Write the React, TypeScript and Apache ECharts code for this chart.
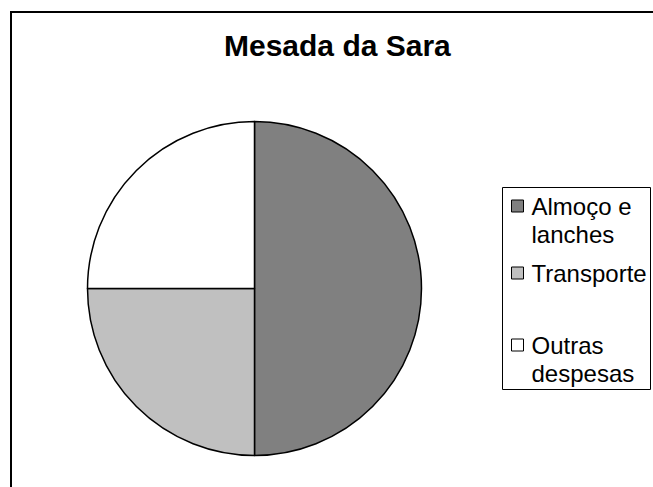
import React, { useEffect, useRef } from "react";
import * as echarts from "echarts";

const TITLE = "Mesada da Sara";
const categories = ["Almoço e lanches", "Transporte", "Outras despesas"];
const legendLines = [["Almoço e", "lanches"], ["Transporte"], ["Outras", "despesas"]];
const values = [50, 25, 25];
const colors = ["#808080", "#c0c0c0", "#ffffff"];

const FONT = "'Liberation Sans', Arial, sans-serif";
const LEG_FS = 24;

export default function App() {
  const ref = useRef<HTMLDivElement>(null);
  useEffect(() => {
    if (!ref.current) return;
    const chart = echarts.init(ref.current, undefined, { renderer: "svg" });
    const LH = 28;
    const iconCenters = [206, 273, 345];
    const legends = categories.map((name, i) => {
      const lines = legendLines[i];
      const multi = lines.length > 1;
      const top = multi ? iconCenters[i] - (LH * 3) / 2 : iconCenters[i] - LH / 2;
      return {
        show: true,
        orient: "vertical",
        left: 511,
        top: top,
        padding: 0,
        itemWidth: 12,
        itemHeight: 12,
        icon: "rect",
        selectedMode: false,
        itemStyle: { borderColor: "#000", borderWidth: 1 },
        data: [
          {
            name,
            textStyle: {
              padding: [0, 0, 0, 3],
              backgroundColor: "rgba(0,0,0,0)",
            },
          },
        ],
        formatter: () =>
          multi ? `{first|${lines[0]}}\n{second|${lines[1]}}` : `{single|${lines[0]}}`,
        textStyle: {
          fontFamily: FONT,
          fontSize: LEG_FS,
          color: "#000",
          lineHeight: LH,
          rich: {
            first: {
              fontFamily: FONT,
              fontSize: LEG_FS,
              color: "#000",
              height: LH,
              lineHeight: LH * 2,
              verticalAlign: "bottom",
            },
            second: {
              fontFamily: FONT,
              fontSize: LEG_FS,
              color: "#000",
              lineHeight: LH,
            },
            single: {
              fontFamily: FONT,
              fontSize: LEG_FS,
              color: "#000",
              lineHeight: LH,
            },
          },
        },
      };
    });
    chart.setOption({
      animation: false,
      backgroundColor: "#ffffff",
      title: {
        text: TITLE,
        left: 224,
        top: 30,
        padding: 0,
        textStyle: {
          fontFamily: FONT,
          fontSize: 30,
          fontWeight: "bold",
          color: "#000",
        },
      },
      legend: legends,
      graphic: [
        {
          type: "rect",
          shape: { x: 11, y: 12, width: 800, height: 700 },
          style: { fill: "none", stroke: "#000", lineWidth: 2 },
          silent: true,
        },
        {
          type: "rect",
          shape: { x: 502.5, y: 187.5, width: 148, height: 202 },
          style: { fill: "none", stroke: "#000", lineWidth: 1 },
          silent: true,
        },
      ],
      series: [
        {
          type: "pie",
          center: [254.5, 288.5],
          radius: 167,
          startAngle: 90,
          clockwise: true,
          label: { show: false },
          labelLine: { show: false },
          emphasis: { disabled: true },
          itemStyle: { borderColor: "#000", borderWidth: 1.5 },
          data: categories.map((name, i) => ({
            name,
            value: values[i],
            itemStyle: { color: colors[i] },
          })),
        },
      ],
    });
    return () => chart.dispose();
  }, []);
  return (
    <div
      ref={ref}
      style={{ position: "fixed", left: 0, top: 0, width: 653, height: 487 }}
    />
  );
}
